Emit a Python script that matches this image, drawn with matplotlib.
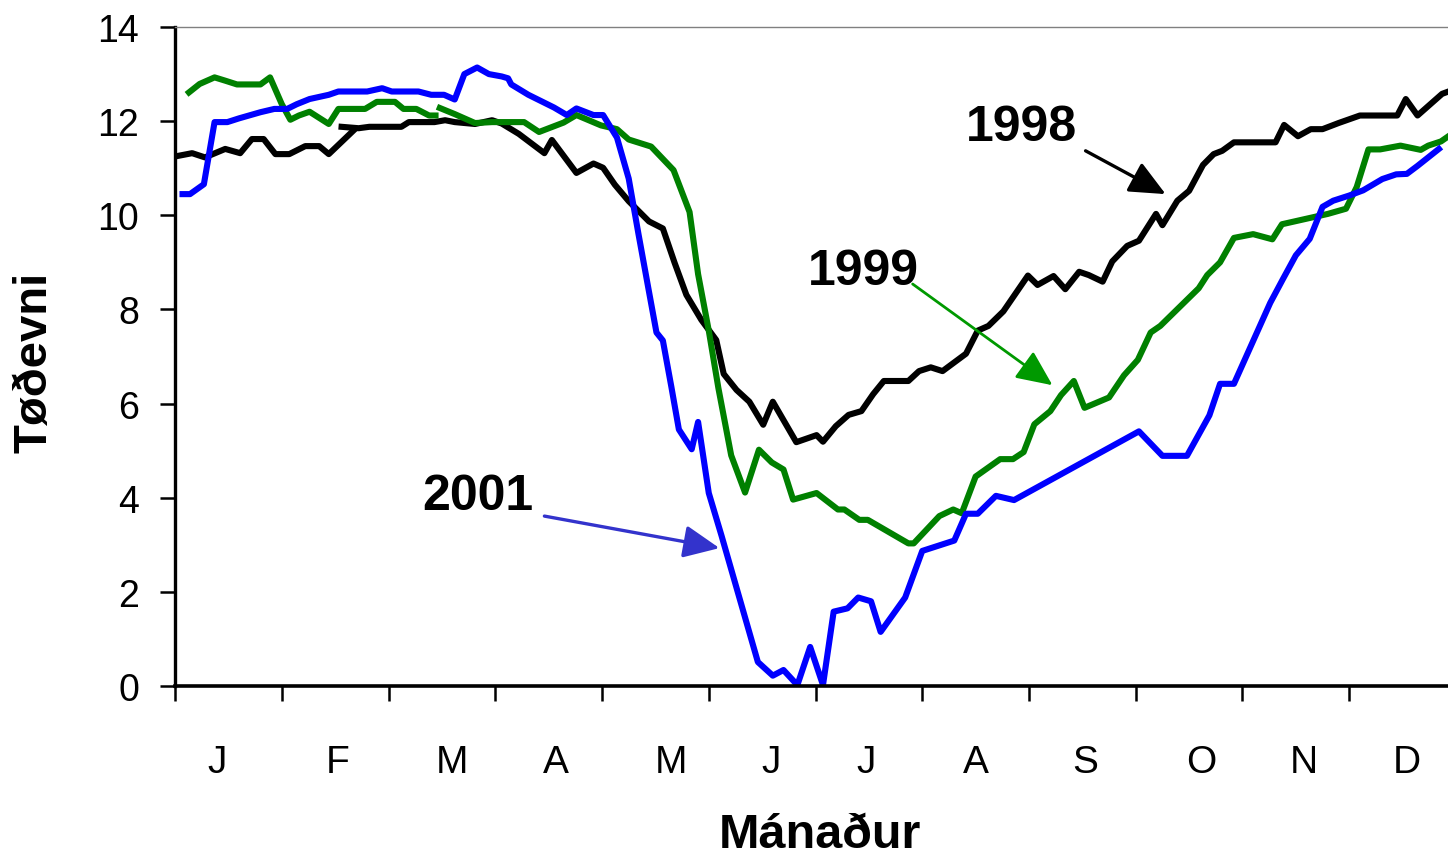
import matplotlib
matplotlib.use("Agg")
import matplotlib.pyplot as plt
import numpy as np

plt.rcParams['font.family'] = ['Liberation Sans', 'DejaVu Sans']

# x in months from 1 Jan (0) to 31 Dec (12), y = value
months = ['J', 'F', 'M', 'A', 'M', 'J', 'J', 'A', 'S', 'O', 'N', 'D']
month_pos = [0.39, 1.52, 2.59, 3.57, 4.65, 5.58, 6.47, 7.50, 8.53, 9.61, 10.57, 11.54]

# 1998 (black) - two pieces, as in the original
x98a = [0.00, 0.16, 0.28, 0.47, 0.61, 0.72, 0.83, 0.94, 1.07, 1.22, 1.35, 1.44, 1.68]
y98a = [11.25, 11.32, 11.23, 11.41, 11.32, 11.62, 11.62, 11.30, 11.30, 11.47, 11.47, 11.30, 11.82]
x98b = [1.56, 1.72, 1.82, 2.12, 2.19, 2.43, 2.53, 2.62, 2.81, 2.97, 3.06, 3.22, 3.46, 3.53,
        3.76, 3.92, 4.01, 4.12, 4.25, 4.44, 4.57, 4.68, 4.79, 4.93, 5.07, 5.14, 5.26, 5.38,
        5.51, 5.60, 5.82, 6.01, 6.07, 6.19, 6.31, 6.43, 6.54, 6.64, 6.87, 6.97, 7.08, 7.19,
        7.41, 7.52, 7.62, 7.76, 7.99, 8.08, 8.23, 8.34, 8.47, 8.56, 8.69, 8.78, 8.92, 9.03,
        9.19, 9.25, 9.39, 9.50, 9.63, 9.73, 9.81, 9.92, 10.31, 10.39, 10.52, 10.64, 10.75,
        10.90, 11.10, 11.45, 11.53, 11.64, 11.87, 11.93]
y98b = [11.88, 11.85, 11.88, 11.88, 11.98, 11.98, 12.02, 11.98, 11.94, 12.02, 11.95, 11.73,
        11.32, 11.60, 10.90, 11.10, 11.01, 10.65, 10.30, 9.87, 9.72, 8.99, 8.31, 7.78, 7.35,
        6.63, 6.29, 6.04, 5.55, 6.04, 5.18, 5.33, 5.19, 5.52, 5.76, 5.84, 6.20, 6.48, 6.48,
        6.69, 6.77, 6.69, 7.06, 7.55, 7.65, 7.96, 8.72, 8.52, 8.71, 8.43, 8.80, 8.73, 8.59,
        9.02, 9.35, 9.46, 10.03, 9.79, 10.31, 10.52, 11.07, 11.30, 11.37, 11.55, 11.55, 11.92,
        11.68, 11.83, 11.83, 11.96, 12.12, 12.12, 12.47, 12.12, 12.58, 12.63]

# 1999 (green)
x99a = [0.13, 0.23, 0.37, 0.47, 0.58, 0.80, 0.89, 1.00, 1.08, 1.16, 1.26, 1.44, 1.53,
        1.78, 1.89, 2.06, 2.14, 2.26, 2.38, 2.44]
y99a = [12.61, 12.79, 12.93, 12.86, 12.78, 12.78, 12.93, 12.36, 12.03, 12.12, 12.20, 11.94,
        12.26, 12.26, 12.41, 12.41, 12.26, 12.26, 12.12, 12.12]
x99b = [2.48, 2.62, 2.81, 2.97, 3.27, 3.41, 3.64, 3.76, 3.99, 4.14, 4.25, 4.46, 4.67, 4.82,
        4.90, 5.00, 5.09, 5.21, 5.34, 5.47, 5.59, 5.70, 5.79, 6.01, 6.21, 6.27, 6.41, 6.49,
        6.87, 6.92, 7.16, 7.29, 7.37, 7.50, 7.73, 7.85, 7.95, 8.05, 8.20, 8.30, 8.42, 8.52,
        8.75, 8.89, 9.02, 9.14, 9.23, 9.59, 9.67, 9.79, 9.92, 10.10, 10.28, 10.37, 10.80,
        10.97, 11.07, 11.18, 11.29, 11.48, 11.67, 11.74, 11.86, 11.93]
y99b = [12.28, 12.15, 11.96, 11.98, 11.98, 11.77, 11.97, 12.13, 11.91, 11.83, 11.61, 11.46,
        10.96, 10.07, 8.75, 7.55, 6.33, 4.90, 4.11, 5.02, 4.75, 4.60, 3.96, 4.10, 3.75, 3.75,
        3.53, 3.53, 3.03, 3.03, 3.61, 3.75, 3.67, 4.45, 4.82, 4.82, 4.97, 5.56, 5.84, 6.18,
        6.48, 5.91, 6.13, 6.60, 6.93, 7.51, 7.65, 8.45, 8.73, 9.00, 9.52, 9.60, 9.49, 9.81,
        10.03, 10.14, 10.60, 11.40, 11.40, 11.48, 11.39, 11.48, 11.57, 11.68]

# 2001 (blue)
x01 = [0.07, 0.14, 0.27, 0.37, 0.49, 0.60, 0.80, 0.93, 1.05, 1.14, 1.26, 1.44, 1.53, 1.80,
       1.94, 2.03, 2.28, 2.40, 2.52, 2.62, 2.71, 2.83, 2.94, 3.06, 3.12, 3.15, 3.31, 3.55,
       3.67, 3.76, 3.92, 4.01, 4.14, 4.25, 4.34, 4.43, 4.51, 4.57, 4.65, 4.72, 4.84, 4.90,
       5.00, 5.12, 5.46, 5.60, 5.70, 5.83, 5.95, 6.07, 6.17, 6.30, 6.40, 6.52, 6.61, 6.84,
       7.00, 7.30, 7.41, 7.52, 7.69, 7.86, 9.03, 9.25, 9.48, 9.69, 9.79, 9.92, 10.26, 10.38,
       10.50, 10.63, 10.75, 10.85, 11.00, 11.13, 11.31, 11.44, 11.54, 11.64, 11.84]
y01 = [10.45, 10.45, 10.66, 11.98, 11.98, 12.06, 12.19, 12.26, 12.26, 12.36, 12.47, 12.56,
       12.63, 12.63, 12.70, 12.63, 12.63, 12.56, 12.56, 12.46, 13.00, 13.14, 13.00, 12.95,
       12.91, 12.78, 12.56, 12.29, 12.13, 12.27, 12.13, 12.13, 11.65, 10.78, 9.62, 8.50,
       7.51, 7.34, 6.35, 5.45, 5.03, 5.61, 4.10, 3.19, 0.51, 0.22, 0.34, 0.02, 0.83, 0.02,
       1.58, 1.65, 1.88, 1.80, 1.15, 1.88, 2.87, 3.09, 3.66, 3.66, 4.04, 3.95, 5.41, 4.89,
       4.89, 5.75, 6.42, 6.42, 8.14, 8.65, 9.15, 9.50, 10.18, 10.31, 10.42, 10.53, 10.77,
       10.87, 10.88, 11.05, 11.41]

fig = plt.figure(figsize=(14.48, 8.62), dpi=100)
ax = fig.add_axes([0.1209, 0.203, 0.8846, 0.7645])

lw = 4.4
ax.plot(x98a, y98a, color='black', lw=lw)
ax.plot(x98b, y98b, color='black', lw=lw)
ax.plot(x99a, y99a, color='#008000', lw=lw)
ax.plot(x99b, y99b, color='#008000', lw=lw)
ax.plot(x01, y01, color='#0000ff', lw=lw)

ax.set_xlim(0, 12)
ax.set_ylim(0, 14)

# axes styling
ax.spines['right'].set_visible(False)
ax.spines['top'].set_color('#808080')
ax.spines['top'].set_linewidth(1.0)
ax.spines['left'].set_linewidth(2.4)
ax.spines['bottom'].set_linewidth(2.6)

ax.set_yticks(np.arange(0, 15, 2))
ax.tick_params(axis='y', direction='out', length=11, width=1.8, labelsize=27, pad=15)

ax.set_xticks(np.arange(0, 13, 1))
ax.set_xticklabels([])
ax.set_xticks(month_pos, minor=True)
ax.set_xticklabels(months, minor=True)
ax.tick_params(axis='x', which='major', direction='out', length=11, width=1.8)
ax.tick_params(axis='x', which='minor', length=0, labelsize=28, pad=42)

fig.text(0.566, 0.031, 'Mánaður', fontsize=35, fontweight='bold', ha='center', va='center')
fig.text(0.024, 0.58, 'Tøðevni', fontsize=34, fontweight='bold', ha='center', va='center',
         rotation=90)

# labels with arrows
ax.text(7.93, 11.88, '1998', fontsize=36, fontweight='bold', ha='center', va='center')
ax.annotate('', xy=(9.28, 10.45), xytext=(8.53, 11.37),
            arrowprops=dict(arrowstyle='-|>,head_length=1.1,head_width=0.5', color='black',
                            lw=2.4, mutation_scale=20, shrinkA=0, shrinkB=0))
ax.text(6.445, 8.82, '1999', fontsize=36, fontweight='bold', ha='center', va='center')
ax.annotate('', xy=(8.22, 6.39), xytext=(6.91, 8.54),
            arrowprops=dict(arrowstyle='-|>,head_length=1.1,head_width=0.5', color='#009900',
                            lw=2.0, mutation_scale=20, shrinkA=0, shrinkB=0))
ax.text(2.834, 4.04, '2001', fontsize=36, fontweight='bold', ha='center', va='center')
ax.annotate('', xy=(5.10, 2.93), xytext=(3.46, 3.61),
            arrowprops=dict(arrowstyle='-|>,head_length=1.1,head_width=0.5', color='#3333cc',
                            lw=2.4, mutation_scale=20, shrinkA=0, shrinkB=0))

fig.savefig('out.png', dpi=100)
